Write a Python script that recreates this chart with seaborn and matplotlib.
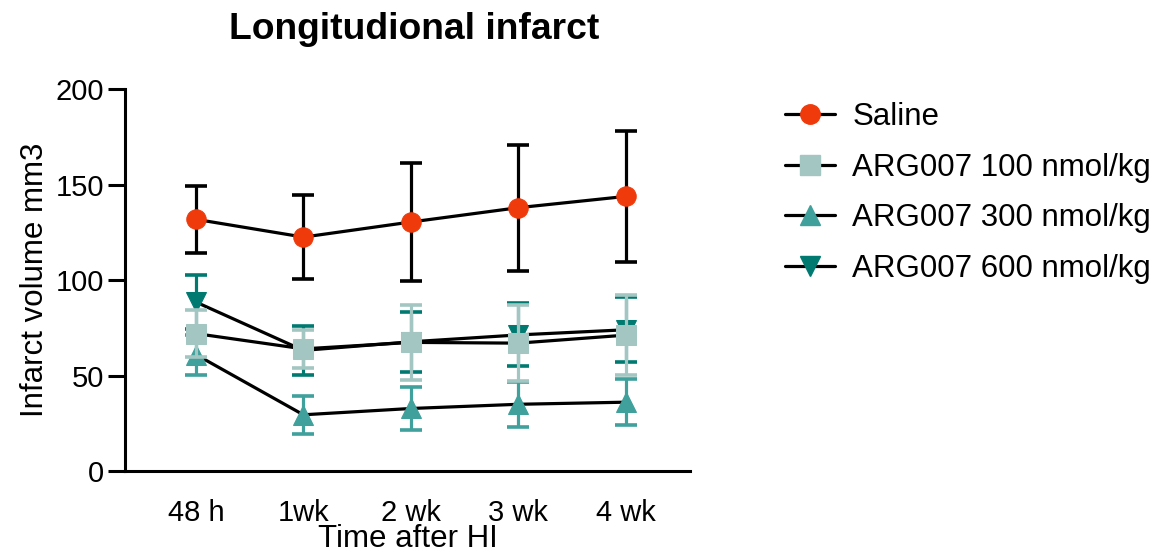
import numpy as np
import pandas as pd
import seaborn as sns
import matplotlib
matplotlib.use("Agg")
import matplotlib.pyplot as plt
from matplotlib.lines import Line2D

time_labels = ["48 h", "1wk", "2 wk", "3 wk", "4 wk"]
series_names = ["Saline", "ARG007 100 nmol/kg", "ARG007 300 nmol/kg", "ARG007 600 nmol/kg"]

saline_mean = [131.8, 122.5, 130.4, 137.9, 143.8]
saline_sem = [17.7, 22.0, 31.0, 33.0, 34.3]
arg100_mean = [72.0, 64.0, 67.4, 67.0, 71.2]
arg100_sem = [12.4, 10.0, 19.8, 20.0, 21.0]
arg300_mean = [61.0, 29.5, 32.8, 35.0, 36.1]
arg300_sem = [10.5, 9.8, 11.0, 11.8, 12.0]
arg600_mean = [88.5, 63.2, 67.7, 71.3, 74.0]
arg600_sem = [14.0, 12.9, 15.7, 16.5, 17.0]

colors = ["#EF3A0B", "#A4C6C2", "#3FA09C", "#007A70"]
markers = ["o", "s", "^", "v"]
zorders = [6, 5, 4, 3]

means = [saline_mean, arg100_mean, arg300_mean, arg600_mean]
sems = [saline_sem, arg100_sem, arg300_sem, arg600_sem]

sns.set_theme(style="ticks")
plt.rcParams["font.family"] = ["Liberation Sans", "DejaVu Sans"]
plt.rcParams["text.color"] = "black"
plt.rcParams["axes.labelcolor"] = "black"
plt.rcParams["xtick.color"] = "black"
plt.rcParams["ytick.color"] = "black"

fig = plt.figure(figsize=(11.63, 5.53), dpi=100)
ax = fig.add_axes([0.1075, 0.148, 0.486, 0.691])

xpos = np.arange(len(time_labels))
for i in [3, 2, 1, 0]:
    df = pd.DataFrame({"x": xpos, "y": means[i]})
    ax.errorbar(xpos, means[i], yerr=sems[i], fmt="none", ecolor=colors[i] if i else "black",
                elinewidth=2.3, capsize=8, capthick=2.6, zorder=zorders[i] - 0.5,
                label="_nolegend_")
    sns.lineplot(data=df, x="x", y="y", ax=ax, color="black", linewidth=2.3,
                 marker=markers[i], markersize=14, markerfacecolor=colors[i],
                 markeredgecolor=colors[i], zorder=zorders[i], legend=False)

ax.set_xlim(-0.66, 4.6)
ax.set_ylim(0, 200)
ax.set_yticks([0, 50, 100, 150, 200])
ax.set_xticks(xpos)
ax.set_xticklabels(time_labels)
ax.tick_params(axis="y", labelsize=21, width=2.2, length=12, color="black", pad=3)
ax.tick_params(axis="x", labelsize=21, length=0, pad=20)
for s in ["top", "right"]:
    ax.spines[s].set_visible(False)
for s in ["left", "bottom"]:
    ax.spines[s].set_linewidth(2.2)
    ax.spines[s].set_color("black")

ax.set_xlabel("Time after HI", fontsize=22.5, labelpad=-2)
ax.set_ylabel("Infarct volume mm3", fontsize=22.5, labelpad=4)
ax.set_title("Longitudional infarct", fontsize=26.8, fontweight="bold", pad=36, x=0.511)

handles = [Line2D([], [], color="black", linewidth=2.3, marker=markers[i], markersize=14,
                  markerfacecolor=colors[i], markeredgecolor=colors[i]) for i in range(4)]
ax.legend(handles, series_names, loc="upper left", bbox_to_anchor=(1.168, 0.966),
          frameon=False, fontsize=22.5, handlelength=1.6, handletextpad=0.55,
          labelspacing=0.66, borderaxespad=0, borderpad=0)

fig.savefig("out.png", dpi=100)
